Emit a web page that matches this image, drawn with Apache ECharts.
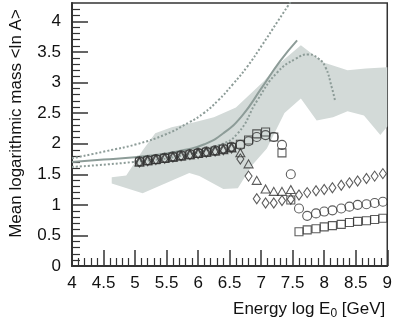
<!DOCTYPE html>
<html>
<head>
<meta charset="utf-8">
<script src="https://cdn.jsdelivr.net/npm/echarts@6/dist/echarts.min.js"></script>
<style>
  html, body { margin: 0; padding: 0; background: #fff; }
  #main { width: 395px; height: 325px; }
</style>
</head>
<body>
<div id="main"></div>
<script>
// energy bins, log10(E0 / GeV)
var energy = [5.07, 5.20, 5.33, 5.47, 5.60, 5.73, 5.87, 6.00, 6.13, 6.27,
              6.40, 6.53, 6.67, 6.80, 6.93, 7.07, 7.20, 7.33, 7.47, 7.60,
              7.73, 7.87, 8.00, 8.13, 8.27, 8.40, 8.53, 8.67, 8.80, 8.93];

// <ln A> for each marker type
var squares = [1.70, 1.72, 1.74, 1.76, 1.78, 1.80, 1.82, 1.84, 1.86, 1.88,
               1.91, 1.94, 1.99, 2.06, 2.16, 2.19, 2.11, 1.85, 1.08, 0.56,
               0.59, 0.61, 0.64, 0.66, 0.68, 0.71, 0.73, 0.74, 0.76, 0.78];
var circles = [1.71, 1.73, 1.75, 1.77, 1.79, 1.81, 1.83, 1.85, 1.87, 1.89,
               1.92, 1.95, 1.98, 2.04, 2.11, 2.14, 2.11, 1.98, 1.50, 0.94,
               0.82, 0.86, 0.89, 0.91, 0.94, 0.97, 1.00, 1.01, 1.03, 1.05];
var triangles = [1.70, 1.72, 1.74, 1.76, 1.78, 1.80, 1.82, 1.84, 1.86, 1.88,
                 1.90, 1.93, 1.85, 1.67, 1.40, 1.26, 1.22, 1.22, 1.25];
var diamonds = [1.70, 1.72, 1.74, 1.76, 1.78, 1.80, 1.82, 1.84, 1.86, 1.88,
                1.90, 1.93, 1.75, 1.47, 1.10, 1.03, 1.03, 1.07, 1.09, 1.16,
                1.20, 1.23, 1.25, 1.28, 1.32, 1.36, 1.39, 1.43, 1.47, 1.51];

// grey band (upper and lower edge)
var bandUpperX = [4.63, 4.86, 5.12, 5.32, 5.58, 5.94, 6.25, 6.60, 7.05, 7.25, 7.63, 7.98, 8.37, 8.66, 9.00];
var bandUpperY = [1.45, 1.48, 1.89, 2.17, 2.27, 2.35, 2.43, 2.59, 3.03, 3.28, 3.61, 3.33, 3.20, 3.23, 3.25];
var bandLowerX = [4.63, 5.12, 5.86, 6.02, 6.40, 6.63, 6.86, 7.09, 7.37, 7.63, 7.88, 8.14, 8.37, 8.63, 8.89, 9.00];
var bandLowerY = [1.35, 1.19, 1.52, 1.47, 1.26, 1.27, 1.65, 1.92, 2.50, 2.74, 2.38, 2.43, 2.53, 2.46, 2.14, 2.28];

// model lines
var solidX = [4.00, 4.50, 5.00, 5.50, 5.80, 6.10, 6.40, 6.70, 7.00, 7.30, 7.57];
var solidY = [1.70, 1.74, 1.78, 1.84, 1.90, 1.99, 2.17, 2.46, 2.90, 3.35, 3.69];
var dotUpperX = [4.00, 4.55, 5.02, 5.48, 5.86, 6.09, 6.32, 6.55, 6.78, 7.02, 7.25, 7.48];
var dotUpperY = [1.76, 1.88, 1.99, 2.15, 2.35, 2.50, 2.71, 2.97, 3.26, 3.62, 3.98, 4.34];
var dotLowerX = [4.00, 4.97, 5.78, 6.32, 6.63, 6.94, 7.25, 7.55, 7.75, 7.91, 8.02, 8.12, 8.17];
var dotLowerY = [1.62, 1.70, 1.81, 1.97, 2.17, 2.71, 3.16, 3.39, 3.46, 3.39, 3.25, 2.92, 2.71];

var yTicks = [0, 0.5, 1, 1.5, 2, 2.5, 3, 3.5, 4];

function zip(xs, ys) {
  var out = [];
  for (var i = 0; i < ys.length; i++) out.push([xs[i], ys[i]]);
  return out;
}

var font = '"Liberation Sans", Arial, sans-serif';
var lineColor = '#8d9c98';
var markColor = '#333';

var chart = echarts.init(document.getElementById('main'));

function markerSeries(name, symbol, size, ys) {
  return {
    name: name,
    type: 'scatter',
    symbol: symbol,
    symbolSize: size,
    data: zip(energy, ys),
    itemStyle: { color: 'rgba(255,255,255,0)', borderColor: markColor, borderWidth: 1.1 },
    z: 5,
    silent: true
  };
}

function modelLine(xs, ys, dotted) {
  return {
    type: 'line', data: zip(xs, ys),
    smooth: 0.5,
    showSymbol: false, silent: true, z: 3,
    lineStyle: { color: lineColor, width: 2, type: dotted ? [2, 2] : 'solid' }
  };
}

var option = {
  animation: false,
  grid: {
    left: 64, right: 5, top: 3, bottom: 59,
    show: true, borderColor: '#333', borderWidth: 1.5
  },
  xAxis: {
    type: 'value',
    min: 4, max: 9, interval: 0.5,
    name: 'Energy log E{sub|0} [GeV]',
    nameLocation: 'end',
    nameGap: -2,
    nameTextStyle: {
      fontFamily: font, fontSize: 17, color: '#111',
      align: 'right', verticalAlign: 'top', padding: [32, 0, 0, 0],
      rich: { sub: { fontFamily: font, fontSize: 12, color: '#111', padding: [10, 0, 0, 0] } }
    },
    axisLine: { lineStyle: { color: '#333', width: 2 } },
    axisTick: { inside: true, length: 16, lineStyle: { color: '#333', width: 1.5 } },
    minorTick: { show: true, splitNumber: 5, length: 8, lineStyle: { color: '#333', width: 1.2 } },
    axisLabel: { fontFamily: font, fontSize: 17, color: '#111', margin: 9 },
    splitLine: { show: false }
  },
  yAxis: {
    type: 'value',
    min: 0, max: 4.3, interval: 0.5,
    name: 'Mean logarithmic mass <ln A>',
    nameLocation: 'middle',
    nameGap: 47,
    nameTextStyle: { fontFamily: font, fontSize: 17, color: '#111', padding: [0, 0, 0, 22] },
    axisLine: { lineStyle: { color: '#333', width: 2 } },
    axisTick: { inside: true, length: 16, customValues: yTicks, lineStyle: { color: '#333', width: 1.5 } },
    minorTick: { show: true, splitNumber: 5, length: 8, lineStyle: { color: '#333', width: 1.2 } },
    axisLabel: { fontFamily: font, fontSize: 17, color: '#111', margin: 11, customValues: yTicks },
    splitLine: { show: false }
  },
  series: [
    {
      type: 'custom',
      silent: true,
      z: 1,
      data: [[bandUpperX[0], bandUpperY[0]]],
      renderItem: function (params, api) {
        var pts = [];
        for (var i = 0; i < bandUpperX.length; i++) pts.push(api.coord([bandUpperX[i], bandUpperY[i]]));
        for (var j = bandLowerX.length - 1; j >= 0; j--) pts.push(api.coord([bandLowerX[j], bandLowerY[j]]));
        return { type: 'polygon', shape: { points: pts }, style: { fill: '#d3dad8' } };
      }
    },
    modelLine(solidX, solidY, false),
    modelLine(dotUpperX, dotUpperY, true),
    modelLine(dotLowerX, dotLowerY, true),
    markerSeries('squares', 'rect', 8, squares),
    markerSeries('circles', 'circle', 9, circles),
    markerSeries('triangles', 'triangle', [9, 8], triangles),
    markerSeries('diamonds', 'diamond', [7, 10], diamonds)
  ]
};

chart.setOption(option);
</script>
</body>
</html>
